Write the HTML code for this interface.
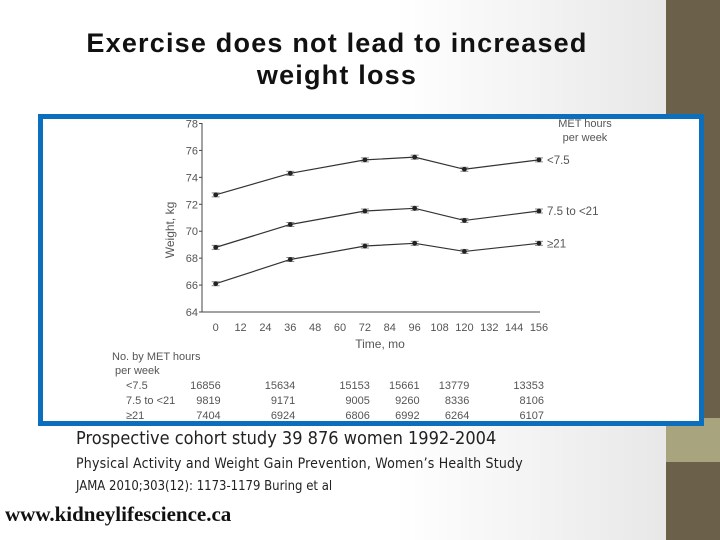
<!DOCTYPE html>
<html><head><meta charset="utf-8"><style>
body{margin:0;width:720px;height:540px;overflow:hidden;font-family:"Liberation Sans",sans-serif;background:linear-gradient(90deg,#fff 0%,#fff 55%,#e8e8e8 92%);position:relative}
.abs{position:absolute;white-space:nowrap}
</style></head><body>
<div class="abs" style="left:666px;top:0;width:54px;height:540px;background:#6b6049"></div>
<div class="abs" style="left:666px;top:418px;width:54px;height:44px;background:#a8a47e"></div>
<div class="abs" style="left:40px;top:27px;width:594px;text-align:center;font-weight:bold;font-size:27px;letter-spacing:1.2px;line-height:32px;color:#111">Exercise does not lead to increased<br>weight loss</div>
<div class="abs" style="left:38px;top:114px;width:656px;height:302px;border:5px solid #0b6fbd;background:#fff"></div>
<svg class="abs" style="left:0;top:0" width="720" height="540" font-family="Liberation Sans, sans-serif" id="chart"></svg>
<div class="abs" style="left:76px;top:428px;font-size:18px;color:#222;font-family:'DejaVu Sans Condensed','Liberation Sans',sans-serif">Prospective cohort study 39 876 women 1992-2004</div>
<div class="abs" style="left:76px;top:456px;font-size:14px;letter-spacing:0.2px;color:#222;font-family:'DejaVu Sans Condensed','Liberation Sans',sans-serif">Physical Activity and Weight Gain Prevention, Women’s Health Study</div>
<div class="abs" style="left:76px;top:479px;font-size:13px;color:#222;font-family:'DejaVu Sans Condensed','Liberation Sans',sans-serif">JAMA 2010;303(12): 1173-1179 Buring et al</div>
<div class="abs" style="left:5px;top:502px;font-size:21px;font-weight:900;color:#111;font-family:'Liberation Serif',serif;letter-spacing:0px">www.kidneylifescience.ca</div>
<script>
const months=[0,36,72,96,120,156];
const seriesLow=[72.7,74.3,75.3,75.5,74.6,75.3];
const seriesMid=[68.8,70.5,71.5,71.7,70.8,71.5];
const seriesHigh=[66.1,67.9,68.9,69.1,68.5,69.1];
const seriesNames=["<7.5","7.5 to <21","≥21"];
const xTicks=[0,12,24,36,48,60,72,84,96,108,120,132,144,156];
const yTicks=[64,66,68,70,72,74,76,78];
const countsLow=["16856","15634","15153","15661","13779","13353"];
const countsMid=["9819","9171","9005","9260","8336","8106"];
const countsHigh=["7404","6924","6806","6992","6264","6107"];
const svg=document.getElementById('chart');
const NS='http://www.w3.org/2000/svg';
const X=m=>215.7+m*(539-215.7)/156;
const Y=v=>312-(v-64)*(312-123.5)/14;
function mk(t,a,txt){const e=document.createElementNS(NS,t);for(const k in a)e.setAttribute(k,a[k]);if(txt!==undefined)e.textContent=txt;svg.appendChild(e);return e;}
let e;
e=mk('line',{x1:202,y1:123,x2:202,y2:312,stroke:'#444','stroke-width':1});


e=mk('line',{x1:202,y1:312,x2:540,y2:312,stroke:'#444','stroke-width':1});


yTicks.forEach(v=>{
 mk('line',{x1:199,x2:202,y1:Y(v),y2:Y(v),stroke:'#444'});
 e=mk('text',{x:198,y:Y(v)+4,'text-anchor':'end','font-size':11,fill:'#555'},v);
 
 
});
xTicks.forEach(m=>{
 e=mk('text',{x:X(m),y:331,'text-anchor':'middle','font-size':11,fill:'#555'},m);
 
 
});
e=mk('text',{x:380,y:348,'text-anchor':'middle','font-size':12,fill:'#555'},'Time, mo');


e=mk('text',{x:0,y:0,'text-anchor':'middle','font-size':12,fill:'#555',transform:'translate(174,230) rotate(-90)'},'Weight, kg');


e=mk('text',{x:585,y:127,'text-anchor':'middle','font-size':11,fill:'#555'},'MET hours');


mk('text',{x:585,y:141,'text-anchor':'middle','font-size':11,fill:'#555'},'per week');
[seriesLow,seriesMid,seriesHigh].forEach((s,i)=>{
 const pts=s.map((v,j)=>X(months[j])+','+Y(v)).join(' ');
 e=mk('polyline',{points:pts,fill:'none',stroke:'#333','stroke-width':1.2});
 
 
 s.forEach((v,j)=>{
  mk('line',{x1:X(months[j])-4,x2:X(months[j])+4,y1:Y(v)-2,y2:Y(v)-2,stroke:'#888'});
  mk('line',{x1:X(months[j])-4,x2:X(months[j])+4,y1:Y(v)+2,y2:Y(v)+2,stroke:'#888'});
  e=mk('circle',{cx:X(months[j]),cy:Y(v),r:2.4,fill:'#222'});
  
  
 });
 e=mk('text',{x:X(156)+8,y:Y(s[s.length-1])+4,'font-size':11.5,fill:'#555'},seriesNames[i]);
 
 
});
e=mk('text',{x:112,y:360,'font-size':11,fill:'#555'},'No. by MET hours');


mk('text',{x:115,y:374,'font-size':11,fill:'#555'},'per week');
const rowY=[389,404,419];
[countsLow,countsMid,countsHigh].forEach((r,i)=>{
 e=mk('text',{x:126,y:rowY[i],'font-size':11,fill:'#555'},seriesNames[i]);
 
 
 r.forEach((c,j)=>{
  e=mk('text',{x:X(months[j])+5,y:rowY[i],'text-anchor':'end','font-size':11,fill:'#555'},c);
  
  
 });
});
</script>
</body></html>
